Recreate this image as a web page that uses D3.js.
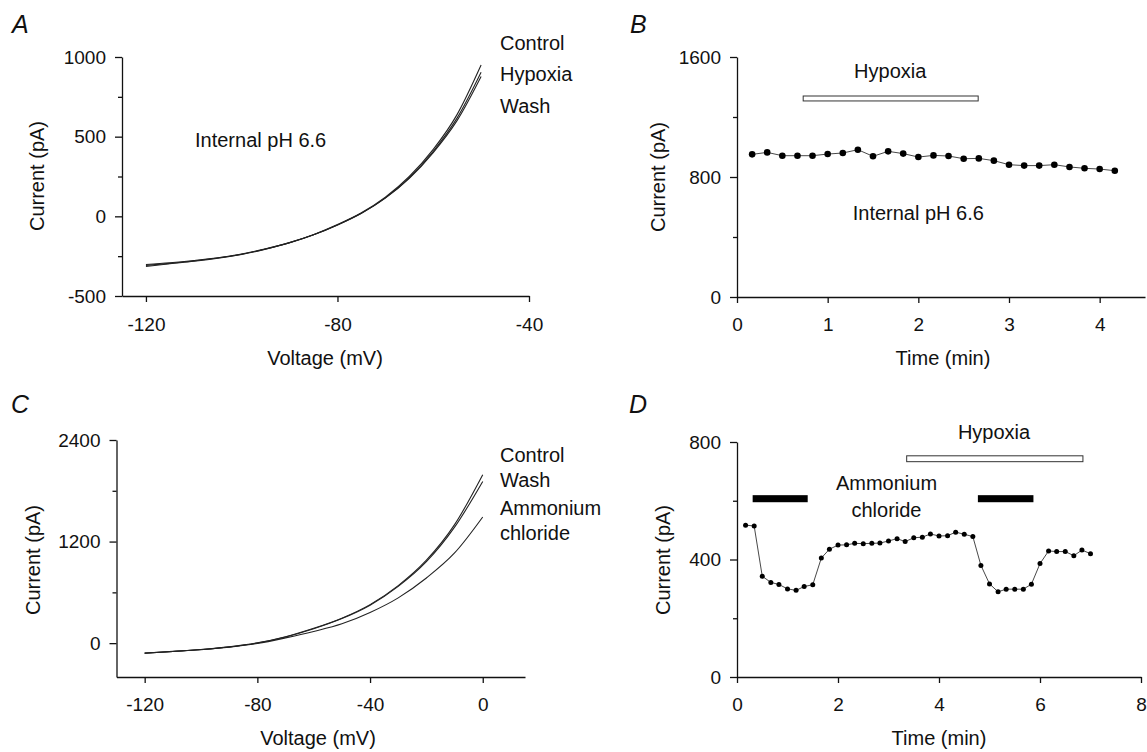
<!DOCTYPE html>
<html>
<head>
<meta charset="utf-8">
<script src="https://cdn.jsdelivr.net/npm/d3@7"></script>
<style>
  body { margin: 0; background: #fff; }
  svg { display: block; font-family: Arial, "Liberation Sans", sans-serif; }
  .lbl { font-size: 20px; fill: #111; }
  .panel { font-size: 25px; font-style: italic; fill: #111; }
</style>
</head>
<body>
<svg id="fig" width="1147" height="752"></svg>
<script>
// ---- Panel A: I-V curves, internal pH 6.6 ----
const voltsA = [-120, -115, -110, -105, -100, -95, -90, -85, -80, -75, -70, -65, -60, -55, -50];
const controlA = [-308, -295, -280, -262, -238, -205, -165, -115, -52, 22, 120, 250, 420, 640, 950];
const hypoxiaA = [-315, -298, -282, -263, -239, -206, -166, -116, -54, 20, 116, 242, 408, 618, 905];
const washA    = [-302, -291, -277, -260, -236, -204, -165, -116, -54, 19, 114, 238, 400, 602, 878];

// ---- Panel B: current vs time ----
const timeB = [0.167, 0.333, 0.5, 0.667, 0.833, 1.0, 1.167, 1.333, 1.5, 1.667, 1.833, 2.0, 2.167,
               2.333, 2.5, 2.667, 2.833, 3.0, 3.167, 3.333, 3.5, 3.667, 3.833, 4.0, 4.167];
const currentB = [951, 964, 942, 942, 942, 953, 960, 982, 938, 971, 956, 933, 944,
                  940, 922, 924, 909, 882, 876, 876, 882, 867, 858, 853, 842];
const hypoxiaBarB = [0.73, 2.66];

// ---- Panel C: I-V curves, ammonium chloride ----
const voltsC = [-120, -110, -100, -90, -80, -70, -60, -50, -40, -30, -20, -10, 0];
const controlC  = [-118, -97, -75, -44, 3, 76, 175, 295, 455, 680, 980, 1400, 1990];
const washC     = [-118, -98, -76, -45, 1, 73, 170, 290, 448, 670, 962, 1370, 1910];
const ammoniumC = [-120, -99, -78, -47, -4, 62, 138, 228, 362, 535, 770, 1065, 1490];

// ---- Panel D: current vs time ----
const timeD = [0.17, 0.34, 0.5, 0.67, 0.83, 1.0, 1.17, 1.33, 1.5, 1.67, 1.83, 2.0, 2.17, 2.33,
               2.5, 2.67, 2.83, 3.0, 3.17, 3.33, 3.5, 3.67, 3.83, 4.0, 4.17, 4.33, 4.5, 4.67,
               4.83, 5.0, 5.17, 5.33, 5.5, 5.67, 5.83, 6.0, 6.17, 6.33, 6.5, 6.67, 6.83, 7.0];
const currentD = [517, 514, 343, 322, 315, 300, 295, 308, 314, 405, 435, 449, 450, 455,
                  454, 455, 456, 463, 471, 461, 474, 476, 487, 480, 481, 493, 486, 478,
                  380, 317, 290, 299, 299, 299, 316, 386, 429, 427, 427, 413, 432, 420];
const hypoxiaBarD = [3.36, 6.85];
const ammoniumBarsD = [[0.31, 1.4], [4.77, 5.87]];

const svg = d3.select('#fig');
svg.append('rect').attr('width', 1147).attr('height', 752).attr('fill', '#fff');

// draw a pair of axes; major + minor ticks on y
function drawAxes(g, x, y, xTicks, yMajor, yMinor, xPad) {
    const y0 = y.range()[0];
    const x0 = x.range()[0];
    const xa = g.append('g').attr('transform', `translate(0,${y0})`)
        .call(d3.axisBottom(x).tickValues(xTicks).tickSize(6).tickSizeOuter(0).tickPadding(xPad || 15));
    const ym = g.append('g').attr('transform', `translate(${x0},0)`)
        .call(d3.axisLeft(y).tickValues(yMinor).tickSize(4).tickSizeOuter(0).tickFormat(''));
    const ya = g.append('g').attr('transform', `translate(${x0},0)`)
        .call(d3.axisLeft(y).tickValues(yMajor).tickSize(7).tickSizeOuter(0).tickPadding(9));
    [xa, ym, ya].forEach(a => {
        a.selectAll('path, line').attr('stroke', '#111').attr('stroke-width', 1.3);
        a.selectAll('text').attr('font-family', 'Arial, "Liberation Sans", sans-serif')
            .attr('font-size', 19).attr('fill', '#111');
    });
    ym.select('.domain').remove();
    // plain hyphen minus, as in the figure
    xa.selectAll('text').text(d => String(d));
    ya.selectAll('text').text(d => String(d));
}

function text(g, str, xPos, yPos, anchor) {
    g.append('text').attr('class', 'lbl').attr('x', xPos).attr('y', yPos)
        .attr('text-anchor', anchor || 'start').text(str);
}

function yTitle(g, str, xPos, yPos) {
    g.append('text').attr('class', 'lbl').attr('text-anchor', 'middle')
        .attr('transform', `translate(${xPos},${yPos}) rotate(-90)`).text(str);
}

function traces(g, x, y, xs, series) {
    const line = d3.line().x((d, i) => x(xs[i])).y(d => y(d)).curve(d3.curveMonotoneX);
    series.forEach(s => {
        g.append('path').attr('d', line(s)).attr('fill', 'none')
            .attr('stroke', '#222').attr('stroke-width', 1.1);
    });
}

function dots(g, x, y, ts, vs, r) {
    const line = d3.line().x((d, i) => x(ts[i])).y(d => y(d));
    g.append('path').attr('d', line(vs)).attr('fill', 'none')
        .attr('stroke', '#333').attr('stroke-width', 0.9);
    g.selectAll(null).data(vs).join('circle')
        .attr('cx', (d, i) => x(ts[i])).attr('cy', d => y(d)).attr('r', r).attr('fill', '#000');
}

function bar(g, x, y, span, lo, hi, fill) {
    g.append('rect').attr('x', x(span[0])).attr('y', y(hi))
        .attr('width', x(span[1]) - x(span[0])).attr('height', y(lo) - y(hi))
        .attr('fill', fill).attr('stroke', fill === '#000' ? 'none' : '#333').attr('stroke-width', 1);
}

// ---------- A ----------
{
    const g = svg.append('g');
    const x = d3.scaleLinear().domain([-125, -40]).range([122, 529]);
    const y = d3.scaleLinear().domain([-500, 1000]).range([296, 57]);
    drawAxes(g, x, y, [-120, -80, -40], [-500, 0, 500, 1000], [-250, 250, 750], 16);
    traces(g, x, y, voltsA, [washA, hypoxiaA, controlA]);
    g.append('text').attr('class', 'panel').attr('x', 12).attr('y', 33).text('A');
    text(g, 'Control', 500, 50);
    text(g, 'Hypoxia', 500, 81);
    text(g, 'Wash', 500, 113);
    text(g, 'Internal pH 6.6', 195, 147);
    text(g, 'Voltage (mV)', 325, 365, 'middle');
    yTitle(g, 'Current (pA)', 44, 176);
}

// ---------- B ----------
{
    const g = svg.append('g');
    const x = d3.scaleLinear().domain([0, 4.5]).range([737, 1145]);
    const y = d3.scaleLinear().domain([0, 1600]).range([297, 57]);
    drawAxes(g, x, y, [0, 1, 2, 3, 4], [0, 800, 1600], [400, 1200]);
    bar(g, x, y, hypoxiaBarB, 1307, 1340, '#fff');
    dots(g, x, y, timeB, currentB, 3.3);
    g.append('text').attr('class', 'panel').attr('x', 630).attr('y', 33).text('B');
    text(g, 'Hypoxia', x(1.69), 78, 'middle');
    text(g, 'Internal pH 6.6', x(2.0), 220, 'middle');
    text(g, 'Time (min)', 943, 365, 'middle');
    yTitle(g, 'Current (pA)', 665, 177);
}

// ---------- C ----------
{
    const g = svg.append('g');
    const x = d3.scaleLinear().domain([-130, 15]).range([116.5, 525]);
    const y = d3.scaleLinear().domain([-400, 2400]).range([677, 440]);
    drawAxes(g, x, y, [-120, -80, -40, 0], [0, 1200, 2400], [600, 1800]);
    traces(g, x, y, voltsC, [ammoniumC, washC, controlC]);
    g.append('text').attr('class', 'panel').attr('x', 11).attr('y', 413).text('C');
    text(g, 'Control', 500, 462);
    text(g, 'Wash', 500, 487);
    text(g, 'Ammonium', 500, 515);
    text(g, 'chloride', 500, 540);
    text(g, 'Voltage (mV)', 318, 745, 'middle');
    yTitle(g, 'Current (pA)', 40, 560);
}

// ---------- D ----------
{
    const g = svg.append('g');
    const x = d3.scaleLinear().domain([0, 8]).range([737, 1141]);
    const y = d3.scaleLinear().domain([0, 800]).range([677, 442]);
    drawAxes(g, x, y, [0, 2, 4, 6, 8], [0, 400, 800], [200, 600]);
    bar(g, x, y, hypoxiaBarD, 733, 753, '#fff');
    ammoniumBarsD.forEach(s => bar(g, x, y, s, 595, 619, '#000'));
    dots(g, x, y, timeD, currentD, 2.5);
    g.append('text').attr('class', 'panel').attr('x', 629).attr('y', 413).text('D');
    text(g, 'Hypoxia', x(5.09), 439, 'middle');
    text(g, 'Ammonium', x(2.96), 490, 'middle');
    text(g, 'chloride', x(2.96), 517, 'middle');
    text(g, 'Time (min)', 939, 745, 'middle');
    yTitle(g, 'Current (pA)', 670, 560);
}
</script>
</body>
</html>
